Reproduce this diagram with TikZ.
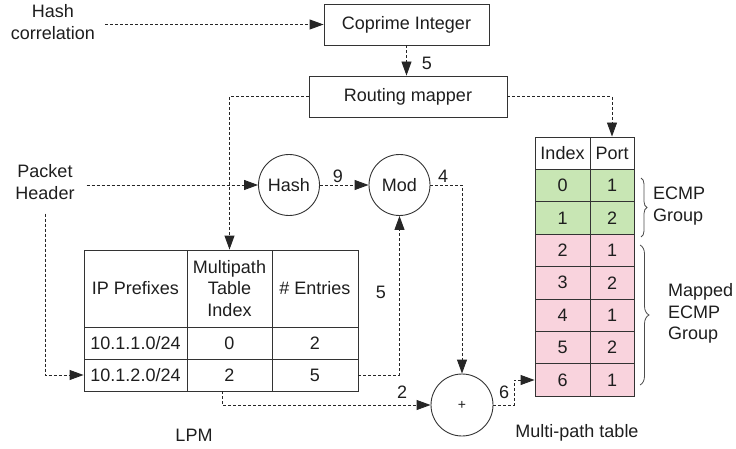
\documentclass[tikz,border=0pt]{standalone}
\usepackage{fontspec}
\setmainfont{Liberation Sans}
\usetikzlibrary{arrows.meta,decorations.pathreplacing}
\definecolor{ecmpgreen}{HTML}{C8E6B4}
\definecolor{mappink}{HTML}{F9D3DD}
\definecolor{edgegray}{HTML}{333333}
\definecolor{inkgray}{HTML}{1E1E1E}

\begin{document}
\begin{tikzpicture}[x=1pt,y=-1pt,
  every node/.style={font=\fontsize{18}{21.6}\selectfont, text=inkgray},
  box/.style={draw=edgegray, line width=0.9pt, inner sep=0pt},
  op/.style={draw=edgegray, circle, line width=0.9pt, minimum size=61pt, inner sep=0pt},
  cell/.style={draw=edgegray, line width=0.9pt, inner sep=0pt, minimum height=32.4pt, align=center},
  flow/.style={dash pattern=on 3pt off 2pt, line width=0.9pt, draw=black!85,
               -{Triangle[length=14pt,width=10pt]}},
  lbl/.style={inner sep=0pt},
  grp/.style={draw=black!70, line width=0.8pt, decorate, decoration={brace, amplitude=6pt}}
]
\useasboundingbox (0,0) rectangle (736,449);

% control boxes
\node[box, minimum width=165pt, minimum height=41pt] (coprime) at (406.5,24.5) {Coprime Integer};
\node[box, minimum width=198pt, minimum height=41pt] (mapper) at (408,96.5) {Routing mapper};

% inputs
\node[align=center, inner xsep=10pt, inner ysep=2pt] (hc) at (53,22) {Hash\\correlation};
\node[align=center, inner xsep=12pt, inner ysep=14pt] (ph) at (45,182) {Packet\\Header};

% operators
\node[op] (hash) at (289,185) {Hash};
\node[op] (mod) at (399.5,185) {Mod};
\node[op, minimum size=62pt, font=\fontsize{14}{16}\selectfont] (plus) at (462,405) {+};

% LPM table
\node[cell, minimum width=103pt, minimum height=77pt] (lpm01) at (135.5,288.5) {IP Prefixes};
\node[cell, minimum width=85pt, minimum height=77pt] (lpm02) at (229.5,288.5) {Multipath\\Table\\Index};
\node[cell, minimum width=86pt, minimum height=77pt] (lpm03) at (315,288.5) {\# Entries};
\node[cell, minimum width=103pt, minimum height=32pt] (lpm11) at (135.5,343) {10.1.1.0/24};
\node[cell, minimum width=85pt, minimum height=32pt] (lpm12) at (229.5,343) {0};
\node[cell, minimum width=86pt, minimum height=32pt] (lpm13) at (315,343) {2};
\node[cell, minimum width=103pt, minimum height=32pt] (lpm21) at (135.5,375) {10.1.2.0/24};
\node[cell, minimum width=85pt, minimum height=32pt] (lpm22) at (229.5,375) {2};
\node[cell, minimum width=86pt, minimum height=32pt] (lpm23) at (315,375) {5};
\node[lbl] (lpmname) at (194,435) {LPM};

% multi-path table
\node[cell, minimum width=55pt] (mpIh) at (562.5,153.2) {Index};
\node[cell, minimum width=44pt] (mpPh) at (612,153.2) {Port};
\foreach \i/\p in {0/1,1/2,2/1,3/2,4/1,5/2,6/1} {
  \pgfmathsetmacro\yy{185.6+32.4*\i}
  \ifnum\i<2 \def\fillc{ecmpgreen}\else\def\fillc{mappink}\fi
  \node[cell, fill=\fillc, minimum width=55pt] (mpI\i) at (562.5,\yy) {\i};
  \node[cell, fill=\fillc, minimum width=44pt] (mpP\i) at (612,\yy) {\p};
}
\node[lbl] (mpname) at (577,433) {Multi-path table};

% group braces
\draw[grp] (641,178) -- (641,237);
\node[lbl, anchor=west, align=left] (ecmp) at (653,206) {ECMP\\Group};
\draw[grp, decoration={brace, amplitude=9pt}] (640,245) -- (640,385);
\node[lbl, anchor=west, align=left] (mapped) at (668,313.5) {Mapped\\ECMP\\Group};

% connectors
\draw[flow] (hc.east |- coprime.west) -- (coprime.west);
\draw[flow] (coprime.south) -- (coprime.south |- mapper.north);
\node[lbl] at (427,63) {5};
\draw[flow] (mapper.west) -| (lpm02.north);
\draw[flow] (mapper.east) -| (mpPh.north);
\draw[flow] (ph.east |- hash.west) -- (hash.west);
\draw[flow] (ph.south) |- (lpm21.west);
\draw[flow] (hash) -- (mod);
\node[lbl] at (338,176) {9};
\draw[flow] (mod.east) -| (plus.north);
\node[lbl] at (443,176) {4};
\draw[flow] (lpm23.east) -| (mod.south);
\node[lbl] at (381,292) {5};
\draw[flow] ([xshift=-7.5pt]lpm22.south) |- (plus.west);
\node[lbl] at (402,392) {2};
\coordinate (bend) at (514,405);
\draw[flow] (plus.east) -- (bend) |- (mpI6.west);
\node[lbl] at (504,392) {6};
\end{tikzpicture}
\end{document}
